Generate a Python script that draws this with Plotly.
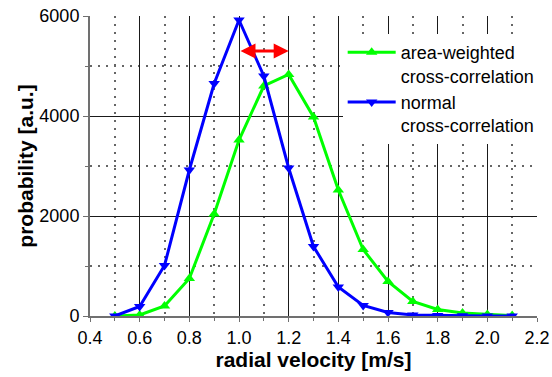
import plotly.graph_objects as go

velocity = [0.5, 0.6, 0.7, 0.8, 0.9, 1.0, 1.1, 1.2, 1.3, 1.4, 1.5, 1.6, 1.7, 1.8, 1.9, 2.0, 2.1]
area_weighted = [0, 20, 200, 750, 2040, 3520, 4600, 4830, 3980, 2520, 1330, 690, 290, 130, 60, 30, 10]
normal = [0, 190, 1010, 2920, 4650, 5920, 4800, 2960, 1390, 580, 210, 70, 20, 10, 5, 0, 0]
arrow_level = 5300

font = "Liberation Sans, Arial, sans-serif"

fig = go.Figure()
fig.add_trace(go.Scatter(
    x=velocity, y=area_weighted, mode="lines+markers",
    name="area-weighted<br>cross-correlation",
    line=dict(color="#00ff00", width=3),
    marker=dict(symbol="triangle-up", size=10, color="#00ff00"),
))
fig.add_trace(go.Scatter(
    x=velocity, y=normal, mode="lines+markers",
    name="normal<br>cross-correlation",
    line=dict(color="#0000ff", width=3),
    marker=dict(symbol="triangle-down", size=10, color="#0000ff"),
))

peak_normal = velocity[normal.index(max(normal))]
peak_area = velocity[area_weighted.index(max(area_weighted))]
fig.add_annotation(
    x=peak_area, y=arrow_level, ax=peak_normal, ay=arrow_level,
    xref="x", yref="y", axref="x", ayref="y",
    text="", showarrow=True, arrowside="end+start",
    arrowhead=2, arrowsize=1.0, arrowwidth=3, arrowcolor="#ff0000",
)

fig.update_layout(
    template="none",
    width=552, height=377,
    margin=dict(l=90, r=15, t=16, b=61),
    plot_bgcolor="white", paper_bgcolor="white",
    font=dict(family=font, size=18, color="black"),
    showlegend=True,
    legend=dict(
        x=1.006, y=0.94, xanchor="right", yanchor="top",
        bgcolor="white", borderwidth=0, valign="top",
        font=dict(family=font, size=18, color="black"),
        tracegroupgap=0, itemwidth=48,
    ),
    xaxis=dict(
        range=[0.4, 2.2], tick0=0.4, dtick=0.2, tickformat=".1f",
        automargin=False,
        showgrid=True, gridcolor="#1a1a1a", gridwidth=1,
        showline=True, linecolor="#707070", linewidth=2,
        ticks="outside", ticklen=4, tickcolor="#707070",
        zeroline=False,
        minor=dict(dtick=0.1, showgrid=True, gridcolor="#666666", griddash="2px,6px", gridwidth=1.5,
                   ticks="outside", ticklen=3, tickcolor="#707070"),
        title=dict(text="<b>radial velocity [m/s]</b>", font=dict(family=font, size=21), standoff=2),
        tickfont=dict(family=font, size=18),
    ),
    yaxis=dict(
        range=[0, 6000], dtick=2000,
        automargin=False,
        showgrid=True, gridcolor="#1a1a1a", gridwidth=1,
        showline=True, linecolor="#707070", linewidth=2,
        ticks="outside", ticklen=5, tickcolor="#707070",
        zeroline=False,
        minor=dict(dtick=1000, showgrid=True, gridcolor="#666666", griddash="2px,6px", gridwidth=1.5,
                   ticks="outside", ticklen=3, tickcolor="#707070"),
        title=dict(text="<b>probability [a.u.]</b>", font=dict(family=font, size=21), standoff=0),
        tickfont=dict(family=font, size=18),
    ),
)

fig.write_html("out.html", config={"displayModeBar": False},
               post_script="document.body.style.margin='0';")
